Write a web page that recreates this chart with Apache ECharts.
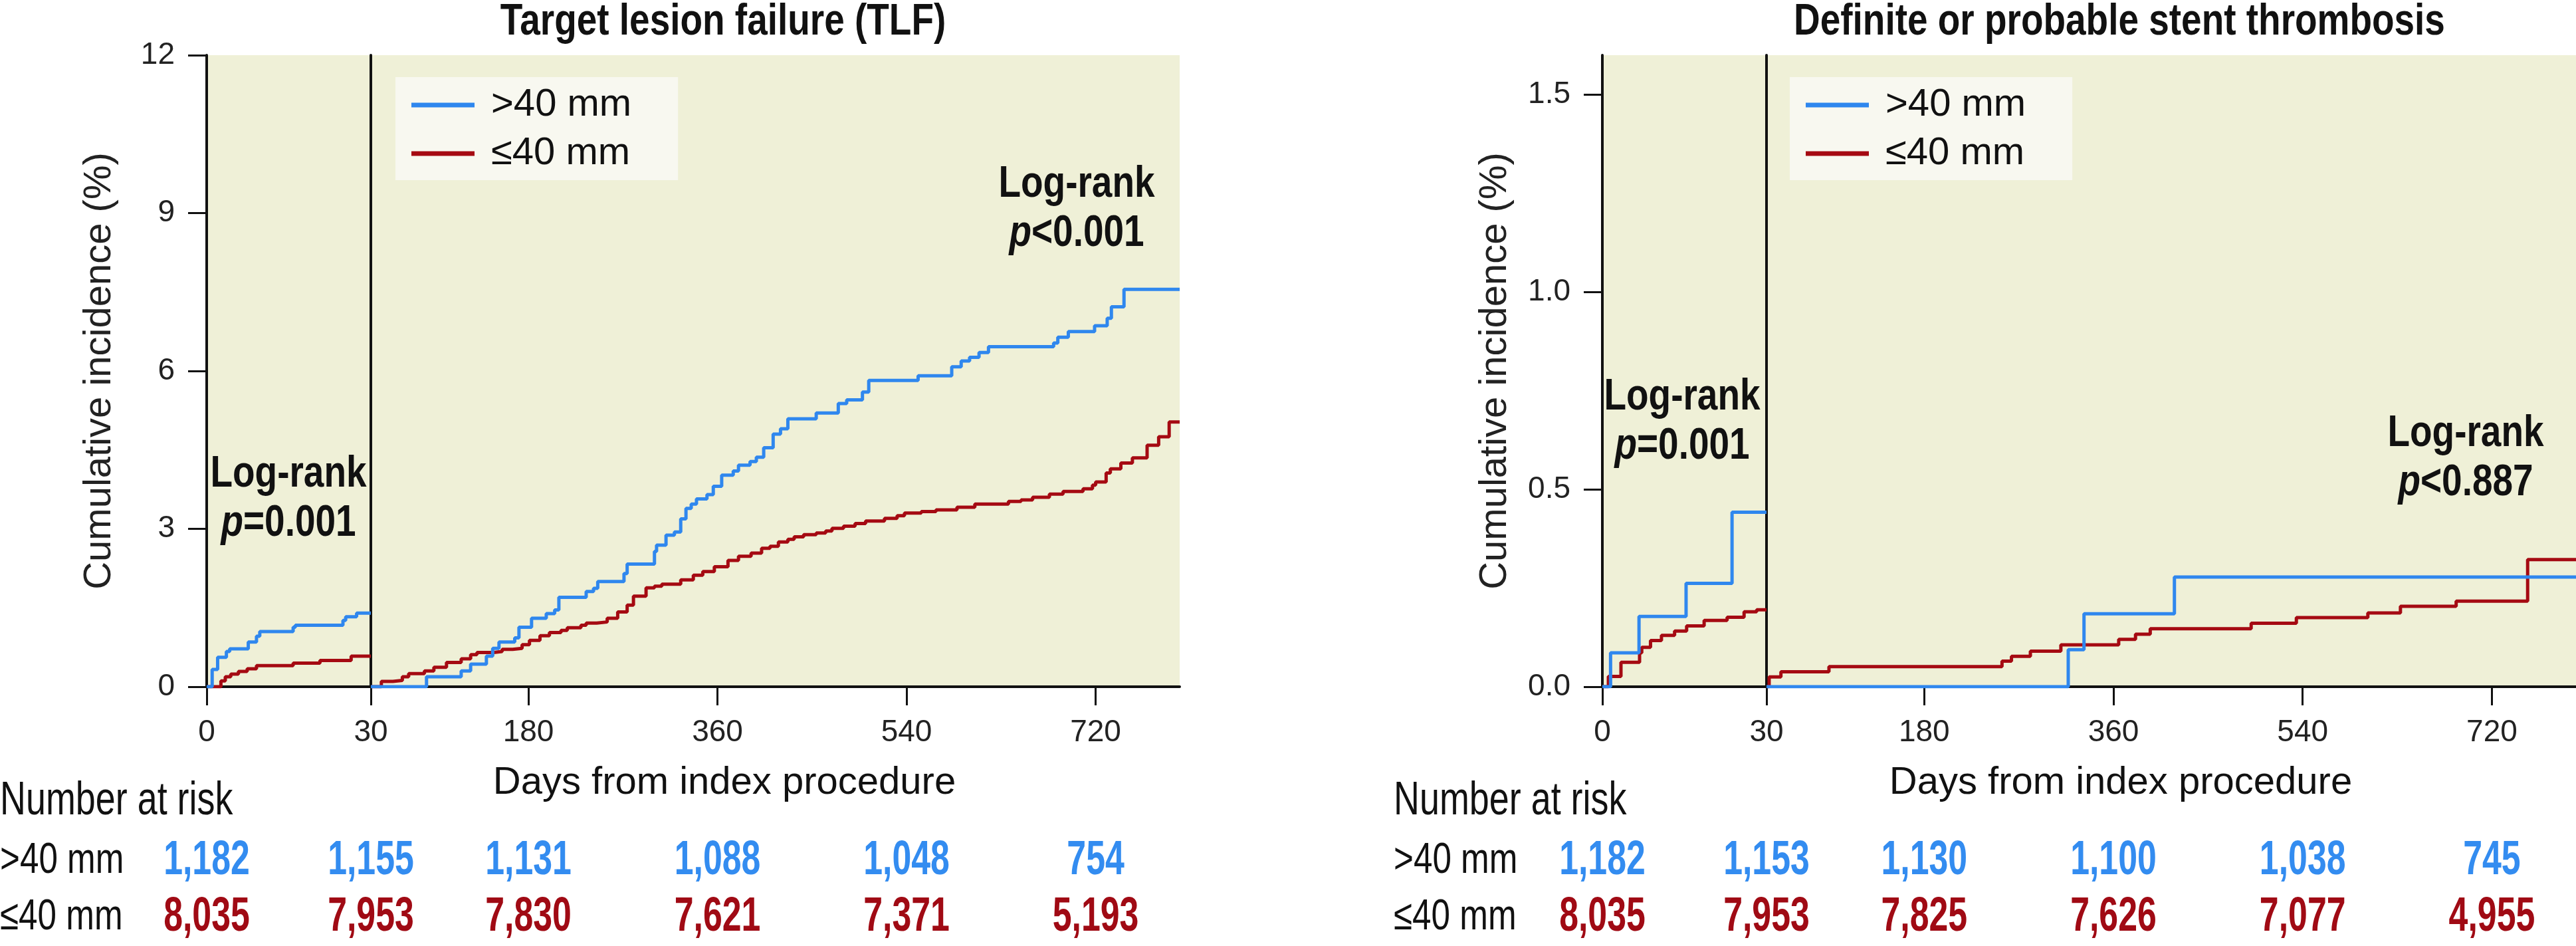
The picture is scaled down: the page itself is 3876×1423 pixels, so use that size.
<!DOCTYPE html>
<html><head><meta charset="utf-8">
<script src="https://cdn.jsdelivr.net/npm/echarts@6/dist/echarts.min.js"></script>
<style>html,body{margin:0;padding:0;background:#fff}#c{width:3876px;height:1423px}</style>
</head><body><div id="c"></div>
<script>
// ---------------- data ----------------
const groups = ['>40 mm', '≤40 mm'];
const riskDays = [0, 30, 180, 360, 540, 720];
const tlfRiskGt40 = [1182, 1155, 1131, 1088, 1048, 754];
const tlfRiskLe40 = [8035, 7953, 7830, 7621, 7371, 5193];
const stRiskGt40 = [1182, 1153, 1130, 1100, 1038, 745];
const stRiskLe40 = [8035, 7953, 7825, 7626, 7077, 4955];
const yTicksTlf = [0, 3, 6, 9, 12];
const yTicksSt = [0, 0.5, 1.0, 1.5];
const xTicksEarly = [0, 30];
const xTicksLate = [180, 360, 540, 720];

// TLF, landmark 0-30 days
const tlfEarlyGt40 = [[0,0],[1,0.33],[2,0.56],[3.6,0.67],[4.2,0.72],[7.6,0.85],[9.1,0.96],[9.7,1.05],[15.8,1.13],[16.2,1.17],[24.9,1.26],[25.4,1.33],[27.4,1.40],[30,1.40]];
const tlfEarlyLe40 = [[0,0],[2.6,0.11],[3.4,0.19],[4.4,0.24],[5.8,0.29],[7.4,0.34],[9.1,0.40],[15.8,0.45],[20.7,0.50],[26.4,0.58],[30,0.58]];
// TLF, 30-800 days
const tlfLateGt40 = [[30,0],[83,0.19],[116,0.30],[125,0.43],[140,0.58],[146,0.73],[152,0.85],[167,0.93],[171,1.13],[183,1.30],[197,1.39],[205,1.46],[209,1.70],[235,1.81],[242,1.87],[246,2.00],[271,2.15],[274,2.33],[300,2.57],[302,2.69],[311,2.88],[319,2.94],[325,3.19],[330,3.39],[335,3.47],[340,3.57],[350,3.65],[356,3.81],[364,4.02],[375,4.10],[380,4.21],[391,4.28],[397,4.36],[404,4.54],[413,4.80],[420,4.90],[427,5.09],[454,5.20],[475,5.38],[483,5.45],[498,5.60],[504,5.82],[551,5.91],[583,6.08],[592,6.19],[600,6.26],[609,6.35],[618,6.46],[680,6.53],[684,6.64],[694,6.75],[719,6.86],[731,7.00],[735,7.22],[747,7.55],[800,7.55]];
const tlfLateLe40 = [[30,0],[40,0.10],[51,0.12],[60,0.19],[66,0.25],[81,0.30],[90,0.37],[102,0.46],[116,0.53],[125,0.61],[131,0.65],[147,0.67],[155,0.71],[165,0.73],[174,0.80],[181,0.88],[191,0.97],[200,1.03],[211,1.07],[217,1.12],[230,1.17],[235,1.21],[245,1.23],[255,1.30],[265,1.42],[274,1.55],[280,1.72],[292,1.88],[300,1.91],[307,1.95],[325,2.03],[337,2.12],[346,2.19],[357,2.28],[370,2.40],[380,2.48],[392,2.54],[402,2.63],[410,2.67],[418,2.75],[427,2.80],[433,2.85],[442,2.89],[454,2.92],[463,2.96],[469,3.01],[480,3.05],[491,3.10],[501,3.15],[519,3.20],[531,3.25],[538,3.30],[554,3.33],[568,3.36],[588,3.41],[605,3.47],[637,3.52],[649,3.55],[660,3.60],[676,3.66],[689,3.71],[708,3.76],[717,3.83],[720,3.89],[730,4.06],[734,4.14],[744,4.25],[755,4.35],[769,4.59],[780,4.75],[790,5.03],[800,5.03]];
// Stent thrombosis, 0-30 days
const stEarlyGt40 = [[0,0],[1.5,0.086],[6.7,0.178],[15.3,0.262],[23.7,0.442],[30,0.442]];
const stEarlyLe40 = [[0,0],[1.1,0.026],[3.4,0.062],[6.8,0.086],[7.2,0.10],[8.8,0.117],[10.8,0.13],[13.2,0.141],[15.4,0.154],[18.6,0.168],[22.8,0.176],[25.9,0.19],[28.2,0.195],[30,0.195]];
// Stent thrombosis, 30-800 days
const stLateGt40 = [[30,0],[317,0.094],[332,0.185],[418,0.278],[800,0.278]];
const stLateLe40 = [[30,0],[32.5,0.025],[43.7,0.038],[89.4,0.051],[254,0.065],[263,0.077],[281,0.09],[310,0.106],[365,0.12],[381,0.133],[395,0.147],[491,0.161],[534,0.175],[602,0.187],[633,0.204],[686,0.217],[754,0.322],[800,0.322]];

// ---------------- style ----------------
const BLUE = '#2f87ee', RED = '#a50a12';
const NUM_BLUE = '#338cf0', NUM_RED = '#a00a14';
const BG = '#eff0d7', INK = '#111111';
const SANS = '"Liberation Sans", Arial, sans-serif';

const chart = echarts.init(document.getElementById('c'), null, {renderer: 'canvas'});

const PLOT_TOP = 83, PLOT_H = 950;
const TABLE_TOP = 1253, TABLE_H = 182;
const panels = [
  {earlyLeft: 311, earlyW: 247, lateW: 1217, yMax: 12, yTicks: yTicksTlf, fmt: v => String(v),
   early: [tlfEarlyGt40, tlfEarlyLe40], late: [tlfLateGt40, tlfLateLe40], risk: [tlfRiskGt40, tlfRiskLe40], rowLabelX: 0},
  {earlyLeft: 2411, earlyW: 247, lateW: 1218, yMax: 1.6, yTicks: yTicksSt, fmt: v => v.toFixed(1),
   early: [stEarlyGt40, stEarlyLe40], late: [stLateGt40, stLateLe40], risk: [stRiskGt40, stRiskLe40], rowLabelX: 2097}
];

const grid = [], xAxis = [], yAxis = [], series = [];
const axisLine = {show: true, onZero: false, lineStyle: {color: INK, width: 4}};
const tickLabel = {fontSize: 46, fontFamily: SANS, color: '#222'};

// number-at-risk cells: text placed at the table axes' coordinates, condensed horizontally
function riskRenderItem(params, api) {
  const pt = api.coord([api.value(0), api.value(1)]);
  const row = api.value(1);
  return {
    type: 'text', x: pt[0], y: pt[1], scaleX: 0.72,
    style: {
      text: Number(api.value(2)).toLocaleString('en-US'),
      fill: row === 0 ? NUM_BLUE : NUM_RED,
      fontSize: 72, fontWeight: 'bold', fontFamily: SANS,
      align: 'center', verticalAlign: 'middle'
    }
  };
}
// row labels of the table, vertically placed by the table's category axis
function rowLabelRenderer(labelX) {
  return function (params, api) {
    const row = api.value(1);
    const pt = api.coord([0, row]);
    return {
      type: 'text', x: labelX, y: pt[1], scaleX: 0.8,
      style: {text: groups[row], fill: INK, fontSize: 64, fontFamily: SANS, align: 'left', verticalAlign: 'middle'}
    };
  };
}

panels.forEach((p) => {
  const lateLeft = p.earlyLeft + p.earlyW;
  const gEarly = grid.length;
  grid.push({left: p.earlyLeft, top: PLOT_TOP, width: p.earlyW, height: PLOT_H, show: true, backgroundColor: BG, borderWidth: 0});
  const gLate = grid.length;
  grid.push({left: lateLeft, top: PLOT_TOP, width: p.lateW, height: PLOT_H, show: true, backgroundColor: BG, borderWidth: 0});
  const tEarly = grid.length;
  grid.push({left: p.earlyLeft, top: TABLE_TOP, width: p.earlyW, height: TABLE_H});
  const tLate = grid.length;
  grid.push({left: lateLeft, top: TABLE_TOP, width: p.lateW, height: TABLE_H});

  // x axes
  xAxis.push({gridIndex: gEarly, type: 'value', min: 0, max: 30, axisLine,
    axisTick: {show: true, length: 28, lineStyle: {color: INK, width: 3}, customValues: xTicksEarly},
    axisLabel: Object.assign({customValues: xTicksEarly, margin: 46}, tickLabel), splitLine: {show: false}});
  xAxis.push({gridIndex: gLate, type: 'value', min: 30, max: 800, axisLine,
    axisTick: {show: true, length: 28, lineStyle: {color: INK, width: 3}, customValues: xTicksLate},
    axisLabel: Object.assign({customValues: xTicksLate, margin: 46}, tickLabel), splitLine: {show: false}});
  xAxis.push({gridIndex: tEarly, type: 'value', min: 0, max: 30, show: false});
  xAxis.push({gridIndex: tLate, type: 'value', min: 30, max: 800, show: false});

  // y axes
  yAxis.push({gridIndex: gEarly, type: 'value', min: 0, max: p.yMax, axisLine,
    axisTick: {show: true, length: 28, lineStyle: {color: INK, width: 3}, customValues: p.yTicks},
    axisLabel: Object.assign({customValues: p.yTicks, margin: 48, formatter: p.fmt}, tickLabel),
    splitLine: {show: false},
    name: 'Cumulative incidence (%)', nameLocation: 'middle', nameGap: 132,
    nameTextStyle: {fontSize: 58, fontFamily: SANS, color: '#222'}});
  yAxis.push({gridIndex: gLate, type: 'value', min: 0, max: p.yMax, axisLine,
    axisTick: {show: false}, axisLabel: {show: false}, splitLine: {show: false}});
  yAxis.push({gridIndex: tEarly, type: 'category', data: groups, inverse: true, show: false});
  yAxis.push({gridIndex: tLate, type: 'category', data: groups, inverse: true, show: false});

  const colors = [BLUE, RED];
  [0, 1].forEach(k => {
    series.push({type: 'line', name: groups[k], xAxisIndex: gEarly, yAxisIndex: gEarly, data: p.early[k],
      step: 'end', symbol: 'none', lineStyle: {color: colors[k], width: 5}, itemStyle: {color: colors[k]}, z: 3 + (1 - k)});
    series.push({type: 'line', name: groups[k], xAxisIndex: gLate, yAxisIndex: gLate, data: p.late[k],
      step: 'end', symbol: 'none', lineStyle: {color: colors[k], width: 5}, itemStyle: {color: colors[k]}, z: 3 + (1 - k)});
  });

  const earlyItems = [], lateItems = [];
  [0, 1].forEach(k => {
    riskDays.forEach((d, i) => {
      (d < 30 ? earlyItems : lateItems).push([d, k, p.risk[k][i]]);
    });
  });
  series.push({type: 'custom', name: 'rows', xAxisIndex: tEarly, yAxisIndex: tEarly, data: [[0, 0], [0, 1]],
    encode: {x: 0, y: 1}, renderItem: rowLabelRenderer(p.rowLabelX), clip: false, silent: true});
  series.push({type: 'custom', name: 'risk', xAxisIndex: tEarly, yAxisIndex: tEarly, data: earlyItems,
    encode: {x: 0, y: 1}, renderItem: riskRenderItem, clip: false, silent: true});
  series.push({type: 'custom', name: 'risk', xAxisIndex: tLate, yAxisIndex: tLate, data: lateItems,
    encode: {x: 0, y: 1}, renderItem: riskRenderItem, clip: false, silent: true});
});

// ---------------- annotations ----------------
const boldRich = {
  b: {fontFamily: SANS, fontWeight: 'bold', fontSize: 67, lineHeight: 74, fill: INK},
  i: {fontFamily: SANS, fontWeight: 'bold', fontStyle: 'italic', fontSize: 67, lineHeight: 74, fill: INK}
};
function logRank(text, cx, top) {
  return {type: 'text', x: cx, y: top, scaleX: 0.82, z: 10,
    style: {text, rich: boldRich, align: 'center', verticalAlign: 'top', fill: INK}};
}
function plainText(text, x, y, size, weight, align, sx) {
  return {type: 'text', x, y, scaleX: sx, z: 10,
    style: {text, fontSize: size, fontWeight: weight, fontFamily: SANS, fill: INK, align, verticalAlign: 'top'}};
}
const graphic = [
  plainText('Target lesion failure (TLF)', 1088, 0, 67, 'bold', 'center', 0.82),
  plainText('Definite or probable stent thrombosis', 3189, 0, 67, 'bold', 'center', 0.82),
  plainText('Number at risk', 0, 1171, 70, 'normal', 'left', 0.77),
  plainText('Number at risk', 2097, 1171, 70, 'normal', 'left', 0.77),
  logRank('{b|Log-rank}\n{i|p}{b|=0.001}', 434, 677),
  logRank('{b|Log-rank}\n{i|p}{b|<0.001}', 1620, 241),
  logRank('{b|Log-rank}\n{i|p}{b|=0.001}', 2531, 561),
  logRank('{b|Log-rank}\n{i|p}{b|<0.887}', 3710, 616)
];

const title = [
  {text: 'Days from index procedure', left: 1090, top: 1149, textAlign: 'center', padding: 0,
   textStyle: {fontFamily: SANS, fontWeight: 'normal', fontSize: 58, lineHeight: 58, color: INK}},
  {text: 'Days from index procedure', left: 3191, top: 1149, textAlign: 'center', padding: 0,
   textStyle: {fontFamily: SANS, fontWeight: 'normal', fontSize: 58, lineHeight: 58, color: INK}}
];

function legendAt(left) {
  return {left, top: 116, orient: 'vertical', data: groups, backgroundColor: '#f8f8f0',
    padding: [13, 70, 11, 24], itemWidth: 95, itemHeight: 7, itemGap: 15, icon: 'rect',
    selectedMode: false,
    textStyle: {fontSize: 58, fontFamily: SANS, color: INK, padding: [0, 0, 0, 20]}};
}

chart.setOption({
  animation: false,
  backgroundColor: '#ffffff',
  title, grid, xAxis, yAxis, series, graphic,
  legend: [legendAt(595), legendAt(2693)]
});
</script></body></html>
